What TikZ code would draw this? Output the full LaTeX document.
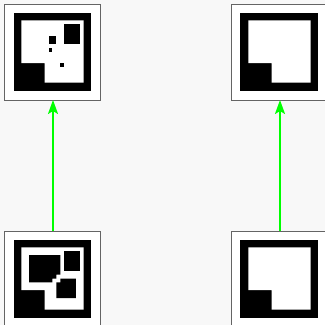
\documentclass[tikz,border=0pt]{standalone}
\usetikzlibrary{arrows.meta}
\definecolor{bgc}{RGB}{248,248,248}
\definecolor{framec}{RGB}{100,100,100}
\definecolor{arrc}{RGB}{0,255,0}
\tikzset{
  framebox/.style={draw=framec, fill=white, line width=1pt, minimum size=96pt, inner sep=0pt, outer sep=0pt},
  arr/.style={draw=arrc, line width=2pt, -{Stealth[length=14pt,width=10pt,inset=3pt]}},
  glyph/.style={x=3.9pt, y=-3.9pt}
}
\begin{document}
\begin{tikzpicture}[x=1pt,y=-1pt]
\useasboundingbox (0,0) rectangle (325,325);
\clip (0,0) rectangle (325,325);
\fill[bgc] (0,0) rectangle (325,325);
% frames
\node[framebox] (tl) at (53,52) {};
\node[framebox] (tr) at (280,52) {};
\node[framebox] (bl) at (53,279) {};
\node[framebox] (br) at (280,279) {};
% top-left glyph
\begin{scope}[shift={(13.5pt,-12.5pt)}, glyph]
  \fill[black] (0,0) rectangle (20,20);
  \fill[white] (2,2) -- (18,2) -- (18,18) -- (8,18) -- (8,13) -- (2,13) -- cycle;
  \fill[black] (13,3) rectangle (17,8);
  \fill[black] (9,6) rectangle (11,8);
  \fill[black] (9,9) rectangle (10,10);
  \fill[black] (12,13) rectangle (13,14);
\end{scope}
% top-right glyph
\begin{scope}[shift={(240.5pt,-12.5pt)}, glyph]
  \fill[black] (0,0) rectangle (20,20);
  \fill[white] (2,2) -- (18,2) -- (18,18) -- (8,18) -- (8,13) -- (2,13) -- cycle;
\end{scope}
% bottom-left glyph
\begin{scope}[shift={(13.5pt,-239.5pt)}, glyph]
  \fill[black] (0,0) rectangle (20,20);
  \fill[white] (2,2) -- (18,2) -- (18,18) -- (8,18) -- (8,13) -- (2,13) -- cycle;
  \fill[black] (4,4) -- (12,4) -- (12,9) -- (11,9) -- (11,10) -- (10,10) -- (10,11) -- (4,11) -- cycle;
  \fill[black] (13,3) rectangle (17,8);
  \fill[black] (12,10) -- (16,10) -- (16,15) -- (11,15) -- (11,11) -- (12,11) -- cycle;
\end{scope}
% bottom-right glyph
\begin{scope}[shift={(240.5pt,-239.5pt)}, glyph]
  \fill[black] (0,0) rectangle (20,20);
  \fill[white] (2,2) -- (18,2) -- (18,18) -- (8,18) -- (8,13) -- (2,13) -- cycle;
\end{scope}
% arrows
\draw[arr] (bl.north) -- (tl.south);
\draw[arr] (br.north) -- (tr.south);
\end{tikzpicture}
\end{document}
